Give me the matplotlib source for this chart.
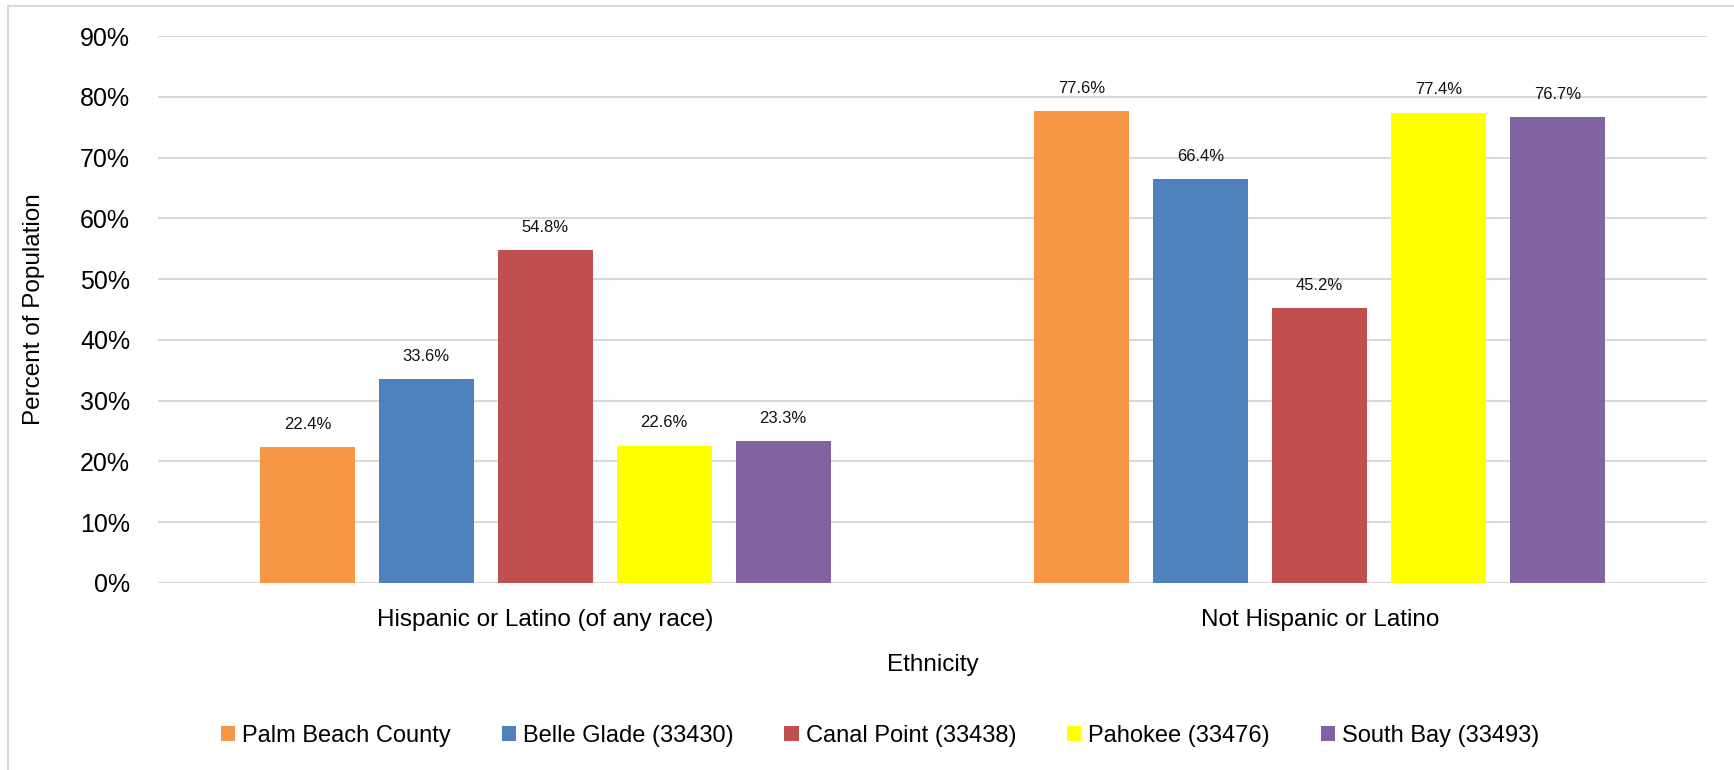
import matplotlib.pyplot as plt
import numpy as np
from matplotlib.patches import Rectangle
from matplotlib.ticker import FuncFormatter

plt.rcParams['font.family'] = ['Liberation Sans Narrow', 'Liberation Sans', 'DejaVu Sans']

categories = ['Hispanic or Latino (of any race)', 'Not Hispanic or Latino']
series_names = ['Palm Beach County', 'Belle Glade (33430)', 'Canal Point (33438)',
                'Pahokee (33476)', 'South Bay (33493)']
palm_beach = [22.4, 77.6]
belle_glade = [33.6, 66.4]
canal_point = [54.8, 45.2]
pahokee = [22.6, 77.4]
south_bay = [23.3, 76.7]
colors = ['#F79646', '#4F81BD', '#C0504D', '#FFFF00', '#8064A2']

all_series = [palm_beach, belle_glade, canal_point, pahokee, south_bay]

fig = plt.figure(figsize=(17.34, 7.7), dpi=100)
ax = fig.add_axes([158 / 1734, 1 - 583 / 770, (1707 - 158) / 1734, (583 - 36) / 770])

# light frame around the chart (only top and left visible in the crop)
fig.patches.append(Rectangle((8 / 1734, -0.1), 1.2, 1 - 6 / 770 + 0.1, transform=fig.transFigure,
                             fill=False, edgecolor='#D9D9D9', linewidth=1.5))

x = np.arange(len(categories))
step = 0.1535
width = 0.1227
for i, (name, vals) in enumerate(zip(series_names, all_series)):
    pos = x + (i - 2) * step
    bars = ax.bar(pos, vals, width, color=colors[i], label=name, zorder=3)
    for b, v in zip(bars, vals):
        ax.text(b.get_x() + b.get_width() / 2, v + 2.5, '%.1f%%' % v,
                ha='center', va='bottom', fontsize=12, color='#111111')

ax.set_xlim(-0.5, 1.5)
ax.set_ylim(0, 90)
ax.set_yticks(range(0, 91, 10))
ax.yaxis.set_major_formatter(FuncFormatter(lambda v, p: '%d%%' % v))
ax.set_xticks(x)
ax.set_xticklabels(categories)
ax.tick_params(axis='both', length=0, labelsize=18)
ax.tick_params(axis='x', labelsize=17.5, pad=19)
ax.tick_params(axis='y', pad=20)
ax.grid(axis='y', color='#D9D9D9', linewidth=1.5, zorder=0)
for s in ax.spines.values():
    s.set_visible(False)

ax.set_ylabel('Percent of Population', fontsize=17.5, labelpad=25)
ax.set_xlabel('Ethnicity', fontsize=17.5, labelpad=16)

fig.legend(loc='center', bbox_to_anchor=(880 / 1734, 1 - 736 / 770), ncol=5, frameon=False,
           fontsize=17, handlelength=0.6, handleheight=0.6, handletextpad=0.3, columnspacing=2.15)

fig.savefig('out.png', dpi=100)
